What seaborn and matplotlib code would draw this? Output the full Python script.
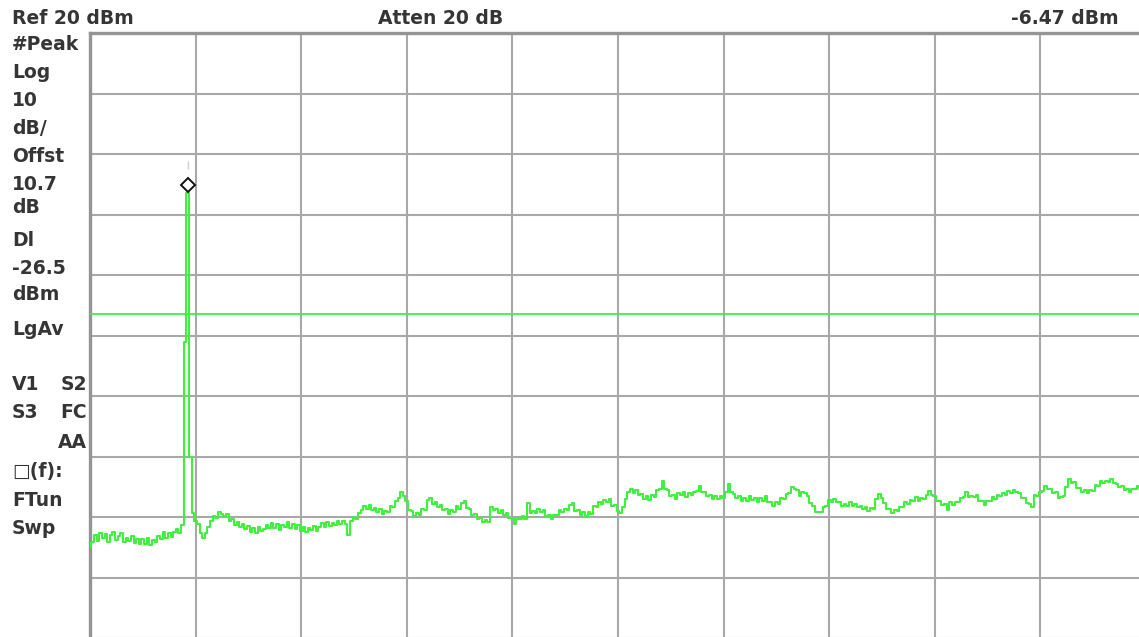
import numpy as np
import matplotlib
matplotlib.use("Agg")
import matplotlib.pyplot as plt
import matplotlib.transforms as mtransforms
import seaborn as sns

# analyzer settings
ref_level = 20          # dBm, top of the graticule
db_per_div = 10
n_div = 10
display_line = -26.5    # dBm
marker_level = -6.47    # dBm

# trace, 401 sweep points across the 10 horizontal divisions
trace_dbm = [
    -65.0, -64.2, -63.0, -63.9, -62.6, -63.5, -62.8, -64.1, -63.0, -62.5,
    -63.8, -63.1, -62.7, -64.2, -63.4, -64.0, -63.2, -64.3, -63.6, -64.5,
    -63.7, -64.4, -63.5, -64.6, -63.8, -64.1, -63.2, -63.7, -62.5, -63.4,
    -62.6, -63.3, -62.4, -62.0, -62.6, -61.4, -31.0, -6.47, -50.0, -59.3,
    -60.6, -61.2, -62.6, -63.4, -62.7, -61.7, -60.6, -59.8, -60.1, -59.2,
    -59.5, -59.9, -59.5, -60.6, -60.3, -61.3, -60.8, -61.7, -61.1, -62.0,
    -61.5, -62.4, -61.8, -62.6, -61.6, -62.3, -62.0, -61.4, -61.9, -61.0,
    -61.8, -61.2, -62.1, -61.3, -61.7, -60.9, -61.8, -61.1, -62.0, -61.4,
    -62.3, -61.7, -62.5, -61.8, -62.2, -61.5, -62.3, -61.7, -61.0, -61.6,
    -60.8, -61.5, -61.0, -61.4, -60.6, -61.2, -60.7, -61.1, -63.0, -60.6,
    -60.0, -60.3, -59.3, -58.9, -58.2, -58.7, -58.0, -58.8, -58.5, -59.2,
    -58.7, -59.5, -59.0, -59.1, -58.1, -58.3, -57.4, -56.9, -55.8, -56.6,
    -57.3, -58.9, -59.0, -59.9, -59.3, -59.6, -58.6, -58.8, -57.2, -56.8,
    -57.8, -57.5, -58.4, -58.0, -58.9, -58.6, -59.5, -58.9, -59.1, -58.2,
    -58.6, -57.7, -57.4, -58.5, -58.6, -59.6, -59.5, -60.4, -60.1, -60.8,
    -60.5, -60.9, -58.3, -58.9, -58.6, -59.3, -58.8, -59.6, -59.3, -60.1,
    -60.2, -61.1, -60.4, -60.3, -59.8, -60.3, -57.7, -59.4, -59.0, -59.4,
    -58.7, -59.2, -58.9, -59.9, -59.7, -60.3, -59.6, -59.7, -58.8, -59.2,
    -58.6, -58.9, -58.0, -57.7, -59.0, -58.8, -59.6, -59.2, -59.8, -59.1,
    -59.5, -58.1, -58.3, -57.5, -57.9, -57.2, -57.6, -57.0, -58.1, -58.0,
    -59.0, -59.4, -58.3, -57.0, -55.9, -55.4, -56.0, -55.5, -56.4, -56.2,
    -57.0, -56.6, -57.2, -56.4, -56.7, -55.6, -55.4, -54.1, -55.3, -55.6,
    -56.6, -56.3, -57.0, -56.0, -56.4, -55.9, -56.7, -56.0, -56.4, -55.8,
    -55.7, -54.9, -55.8, -55.9, -56.6, -56.4, -57.1, -56.6, -57.0, -56.5,
    -56.8, -55.8, -54.6, -55.8, -56.2, -56.9, -56.6, -57.3, -56.8, -57.4,
    -56.5, -57.2, -56.9, -57.5, -56.9, -57.3, -56.6, -57.6, -57.6, -58.2,
    -57.6, -57.8, -56.9, -57.1, -56.2, -56.0, -55.1, -55.4, -55.6, -56.6,
    -55.9, -56.0, -56.6, -57.7, -58.1, -59.1, -59.2, -59.2, -58.3, -58.2,
    -57.2, -57.5, -57.0, -57.6, -57.6, -58.1, -57.8, -58.1, -57.6, -58.1,
    -57.8, -58.4, -58.1, -58.6, -58.4, -59.0, -58.5, -58.6, -57.0, -56.2,
    -56.9, -57.7, -58.7, -58.6, -59.3, -58.8, -59.0, -58.3, -58.3, -57.6,
    -57.8, -57.2, -57.3, -56.7, -57.3, -56.9, -57.1, -56.3, -55.7, -56.4,
    -56.5, -57.3, -57.3, -58.0, -57.8, -58.8, -57.6, -58.0, -57.5, -57.6,
    -56.9, -56.7, -55.9, -56.7, -56.5, -56.7, -56.4, -57.3, -57.3, -58.0,
    -57.3, -57.4, -56.7, -57.0, -56.3, -56.6, -56.0, -56.3, -55.7, -56.0,
    -55.5, -55.8, -56.0, -56.9, -56.9, -57.7, -57.8, -58.4, -56.3, -56.5,
    -55.9, -55.7, -54.8, -55.4, -55.3, -56.0, -55.9, -56.8, -56.7, -56.5,
    -55.0, -53.8, -54.3, -54.2, -55.2, -55.2, -55.8, -55.5, -56.0, -55.5,
    -55.7, -54.7, -54.8, -54.1, -54.4, -54.0, -54.2, -53.7, -54.4, -54.5,
    -55.1, -54.8, -55.5, -55.4, -55.8, -55.3, -55.4, -54.9, -55.2, -55.4,
    -55.3,
]
sweep_div = np.linspace(0, n_div, len(trace_dbm))
peak_idx = int(np.argmax(trace_dbm))

# annotation panel on the left, (text, y pixel)
side_labels = [("#Peak", 44), ("Log", 73), ("10", 100), ("dB/", 129),
               ("Offst", 157), ("10.7", 184), ("dB", 208), ("Dl", 241),
               ("-26.5", 268), ("dBm", 294), ("LgAv", 329), ("V1", 385),
               ("S3", 413), ("\u25a1(f):", 471), ("FTun", 500), ("Swp", 528)]
side_labels_right = [("S2", 385), ("FC", 413), ("AA", 442)]

W, H = 1139, 637
trace_green = "#3ff03f"
grid_gray = "#a8a8a8"
txt_col = "#353535"

sns.set_style("white")
plt.rcParams['font.family'] = ['DejaVu Sans']

fig = plt.figure(figsize=(W / 100, H / 100), dpi=100)
fig.patch.set_facecolor("white")
# graticule runs past the right edge of the screenshot
ax = fig.add_axes([90 / W, -1 / H, 1056 / W, 605 / H])

sns.lineplot(x=sweep_div, y=trace_dbm, ax=ax, color=trace_green,
             linewidth=1.5, sort=False, drawstyle="steps-mid", zorder=3)
ax.axhline(display_line, color=trace_green, linewidth=1.3, zorder=3)

# marker diamond sits just above the peak
up = mtransforms.offset_copy(ax.transData, fig=fig, x=0, y=8, units="dots")
ax.plot(sweep_div[peak_idx], marker_level, marker="D", markersize=7,
        markerfacecolor="white", markeredgecolor="#111111",
        markeredgewidth=1.4, transform=up, zorder=4)
up2 = mtransforms.offset_copy(ax.transData, fig=fig, x=0, y=28, units="dots")
ax.plot(sweep_div[peak_idx], marker_level, marker="|", markersize=6,
        color="#cccccc", transform=up2, zorder=4)

ax.set_xlim(0, n_div)
ax.set_ylim(ref_level - n_div * db_per_div, ref_level)
ax.set_xticks(np.arange(0, n_div + 1))
ax.set_yticks(np.arange(ref_level - n_div * db_per_div, ref_level + 1, db_per_div))
ax.grid(True, color=grid_gray, linewidth=1.5)
ax.tick_params(length=0, labelbottom=False, labelleft=False)
ax.set_xlabel("")
ax.set_ylabel("")
for side in ["right", "bottom"]:
    ax.spines[side].set_visible(False)
for side in ["left", "top"]:
    ax.spines[side].set_color("#949494")
    ax.spines[side].set_linewidth(2.4)

fs = 13.5
fig.text(12 / W, 1 - 19 / H, "Ref 20 dBm", ha="left", va="center",
         fontsize=fs, fontweight="bold", color=txt_col)
fig.text(441 / W, 1 - 19 / H, "Atten 20 dB", ha="center", va="center",
         fontsize=fs, fontweight="bold", color=txt_col)
fig.text(1119 / W, 1 - 19 / H, "-6.47 dBm", ha="right", va="center",
         fontsize=fs, fontweight="bold", color=txt_col)
for lab, ypx in side_labels:
    fig.text(12 / W, 1 - ypx / H, lab, ha="left", va="center",
             fontsize=fs, fontweight="bold", color=txt_col)
for lab, ypx in side_labels_right:
    fig.text(87 / W, 1 - ypx / H, lab, ha="right", va="center",
             fontsize=fs, fontweight="bold", color=txt_col)

fig.savefig("out.png", dpi=100, facecolor="white")
